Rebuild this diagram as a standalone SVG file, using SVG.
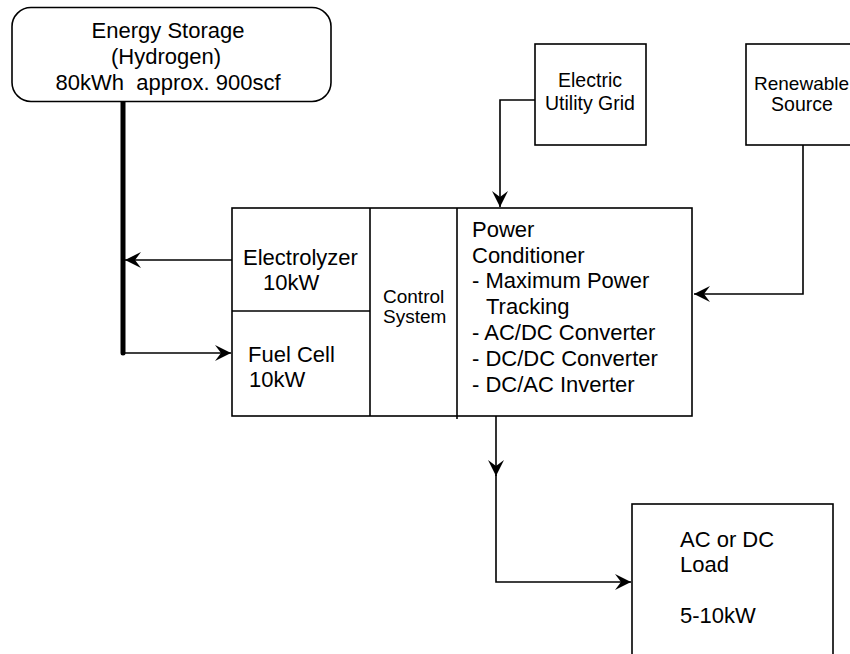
<svg xmlns="http://www.w3.org/2000/svg" width="850" height="654" viewBox="0 0 850 654">
<style>
.box{fill:#fff;stroke:#000;stroke-width:1.6}
.ln{fill:none;stroke:#000;stroke-width:1.6}
.t{font-family:"Liberation Sans",Arial,sans-serif;font-size:22px;fill:#000;white-space:pre}
.s{font-size:19.5px}
.c{text-anchor:middle}
</style>
<defs>
<marker id="arr" viewBox="-18 -10 20 20" refX="0" refY="0" markerWidth="20" markerHeight="20" markerUnits="userSpaceOnUse" orient="auto">
<path d="M0,0 L-16,-8 L-10,0 L-16,8 Z" fill="#000"/>
</marker>
</defs>
<rect width="850" height="654" fill="#fff"/>
<g id="connectors">
<line x1="123" y1="102" x2="123" y2="353" stroke="#000" stroke-width="5" stroke-linecap="round"/>
<path class="ln" d="M232,260 H125" marker-end="url(#arr)"/>
<path class="ln" d="M123,353 H231" marker-end="url(#arr)"/>
<path class="ln" d="M535,100 H500 V207" marker-end="url(#arr)"/>
<path class="ln" d="M803,145 V294 H694" marker-end="url(#arr)"/>
<path class="ln" d="M496,416 V476" marker-end="url(#arr)"/>
<path class="ln" d="M496,475 V582 H631" marker-end="url(#arr)"/>
</g>
<g id="energy-storage">
<rect class="box" x="12" y="7.5" width="319" height="94" rx="19"/>
<text class="t c" x="168" y="38">Energy Storage</text>
<text class="t c" x="166" y="64">(Hydrogen)</text>
<text class="t c" x="168" y="90">80kWh  approx. 900scf</text>
</g>
<g id="utility-grid">
<rect class="box" x="535" y="44" width="111" height="101"/>
<text class="t s c" x="590" y="87">Electric</text>
<text class="t s c" x="590" y="110">Utility Grid</text>
</g>
<g id="renewable">
<rect class="box" x="746" y="44" width="115" height="101"/>
<text class="t" style="font-size:19px" x="754" y="90">Renewable</text>
<text class="t s c" x="802" y="111">Source</text>
</g>
<g id="main-unit">
<rect class="box" x="232" y="208" width="460" height="208"/>
<line class="ln" x1="370" y1="208" x2="370" y2="416"/>
<line class="ln" x1="457" y1="208" x2="457" y2="419"/>
<line class="ln" x1="232" y1="311" x2="370" y2="311"/>
</g>
<g id="electrolyzer">
<text class="t" x="243" y="265">Electrolyzer</text>
<text class="t" x="263" y="290">10kW</text>
</g>
<g id="fuel-cell">
<text class="t" x="248" y="362">Fuel Cell</text>
<text class="t" x="249" y="387">10kW</text>
</g>
<g id="control-system">
<text class="t" style="font-size:19px" x="383" y="303">Control</text>
<text class="t" style="font-size:19px" x="383" y="323">System</text>
</g>
<g id="power-conditioner">
<text class="t" x="472" y="237">Power</text>
<text class="t" x="472" y="263">Conditioner</text>
<text class="t" x="472" y="288">- Maximum Power</text>
<text class="t" x="486" y="314">Tracking</text>
<text class="t" x="472" y="340">- AC/DC Converter</text>
<text class="t" x="472" y="366">- DC/DC Converter</text>
<text class="t" x="472" y="392">- DC/AC Inverter</text>
</g>
<g id="load">
<rect class="box" x="632" y="504" width="201" height="170"/>
<text class="t" x="680" y="547">AC or DC</text>
<text class="t" x="680" y="572">Load</text>
<text class="t" x="680" y="623">5-10kW</text>
</g>
</svg>
